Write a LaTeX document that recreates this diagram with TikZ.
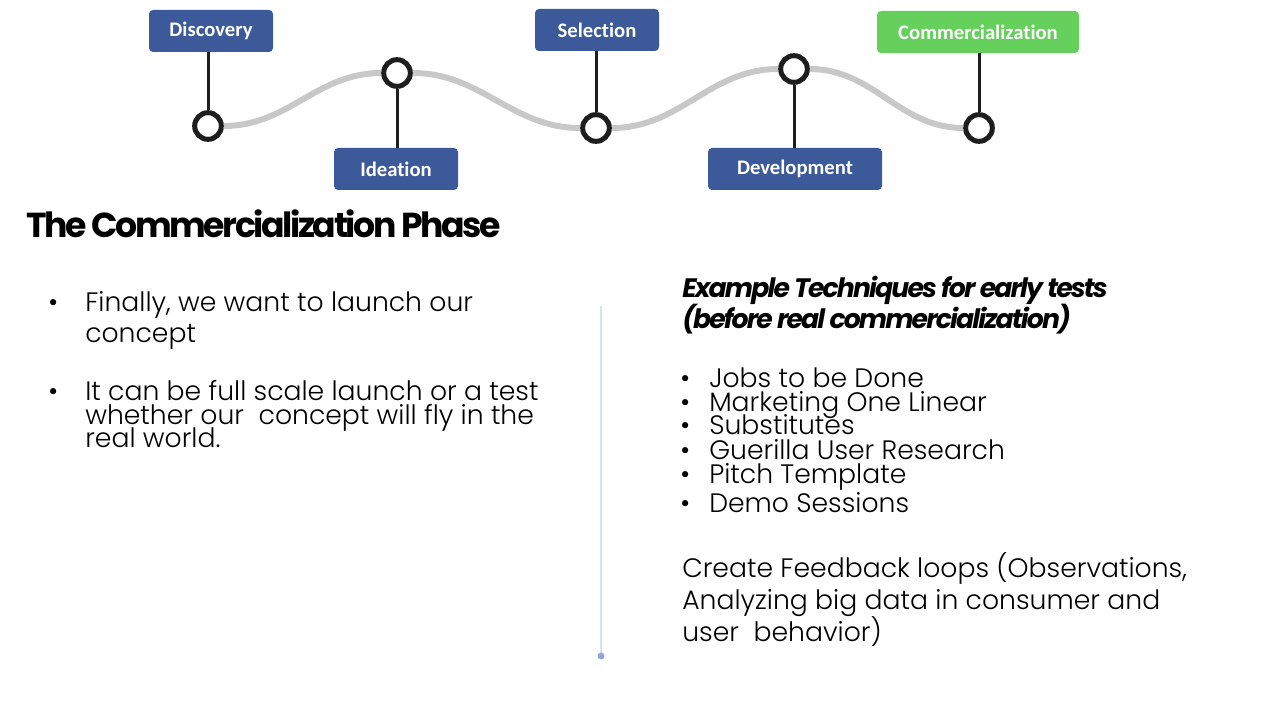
\documentclass[tikz,border=0pt]{standalone}
\usepackage{fontspec}
\setmainfont{Poppins}[UprightFont={* Light}, BoldFont={* Bold}]
\newfontfamily\boxfont[Ligatures=NoCommon]{Carlito}
\newfontfamily\tightfont[LetterSpace=-7]{Poppins}
\usetikzlibrary{positioning}
\definecolor{phaseblue}{HTML}{3C5A99}
\definecolor{phasegreen}{HTML}{66D05C}
\definecolor{wavegray}{HTML}{C8C8C8}
\definecolor{ringblack}{HTML}{1E1E1E}
\definecolor{divline}{HTML}{DAE1F1}
\definecolor{divdot}{HTML}{8FA5DB}

\begin{document}
\begin{tikzpicture}[x=0.75pt, y=-0.75pt, phase node/.style={rectangle, rounded corners=3pt, fill=phaseblue, text=white, font=\boxfont\bfseries\fontsize{15.5}{17}\selectfont, minimum width=93pt, minimum height=31.5pt, inner sep=0pt}, dot node/.style={circle, draw=ringblack, line width=3.75pt, fill=white, minimum size=20pt, inner sep=0pt}, body text/.style={anchor=base west, inner sep=0pt, font=\fontsize{20}{24}\selectfont}]
\useasboundingbox (0,0) rectangle (1280,720);
% timeline dots
\foreach \n/\x/\y in {dis/208/126, ide/397/73, sel/596/128, dev/794/69, com/979/128}{
    \node[dot node] (\n) at (\x,\y) {};}
\draw[wavegray, line width=4.5pt] (dis) to[out=0, in=180] (ide) to[out=0, in=180] (sel) to[out=0, in=180] (dev) to[out=0, in=180] (com);
% phase boxes
\node[phase node] (disb) at (211,31) {Discovery};
\node[phase node] (ideb) at (396,169) {Ideation};
\node[phase node] (selb) at (597,30) {Selection};
\node[phase node, minimum width=130.5pt] (devb) at (795,169) {Development};
\node[phase node, minimum width=151.5pt, fill=phasegreen] (comb) at (978,32) {Commercialization};
\foreach \b/\d in {disb/dis, selb/sel, comb/com}{
    \draw[ringblack, line width=2.25pt] (\d |- \b.south) -- (\d);}
\foreach \b/\d in {ideb/ide, devb/dev}{
    \draw[ringblack, line width=2.25pt] (\d |- \b.north) -- (\d);}
% title
\node[anchor=base west, inner sep=0pt, font=\tightfont\bfseries\fontsize{26}{30}\selectfont] (title) at (26,238) {The Commercialization Phase};
% divider
\coordinate (divtop) at (601,306);
\coordinate (divbot) at (601,656);
\draw[divline, line width=1.5pt] (divtop) -- (divbot);
\fill[divdot] (divbot) circle (2.6pt);
% left column
\foreach \i/\y/\t in {1/311/{Finally, we want to launch our}, 2/342/concept, 3/400/{It can be full scale launch or a test}, 4/424/{whether our\ \ concept will fly in the}, 5/447/{real world.}}{
    \node[body text] (left\i) at (85,\y) {\t};}
\foreach \i/\y in {1/311, 2/400}{
    \node[body text] (lbul\i) at (48,\y) {•};}
% right column
\foreach \i/\y/\t in {1/297/{Example Techniques for early tests}, 2/328/{(before real commercialization)}}{
    \node[body text, font=\tightfont\bfseries\itshape\fontsize{20}{24}\selectfont] (head\i) at (682,\y) {\t};}
\foreach \i/\y/\t in {1/387/{Jobs to be Done}, 2/411/{Marketing One Linear}, 3/434/{Substitutes}, 4/459/{Guerilla User Research}, 5/483/{Pitch Template}, 6/512/{Demo Sessions}}{
    \node[body text] (tech\i) at (709,\y) {\t};
    \node[body text] (rbul\i) at (680,\y) {•};}
\foreach \i/\y/\t in {1/577/{Create Feedback loops (Observations,}, 2/609/{Analyzing big data in consumer and}, 3/641/{user\ \ behavior)}}{
    \node[body text] (loop\i) at (682,\y) {\t};}
\end{tikzpicture}
\end{document}
